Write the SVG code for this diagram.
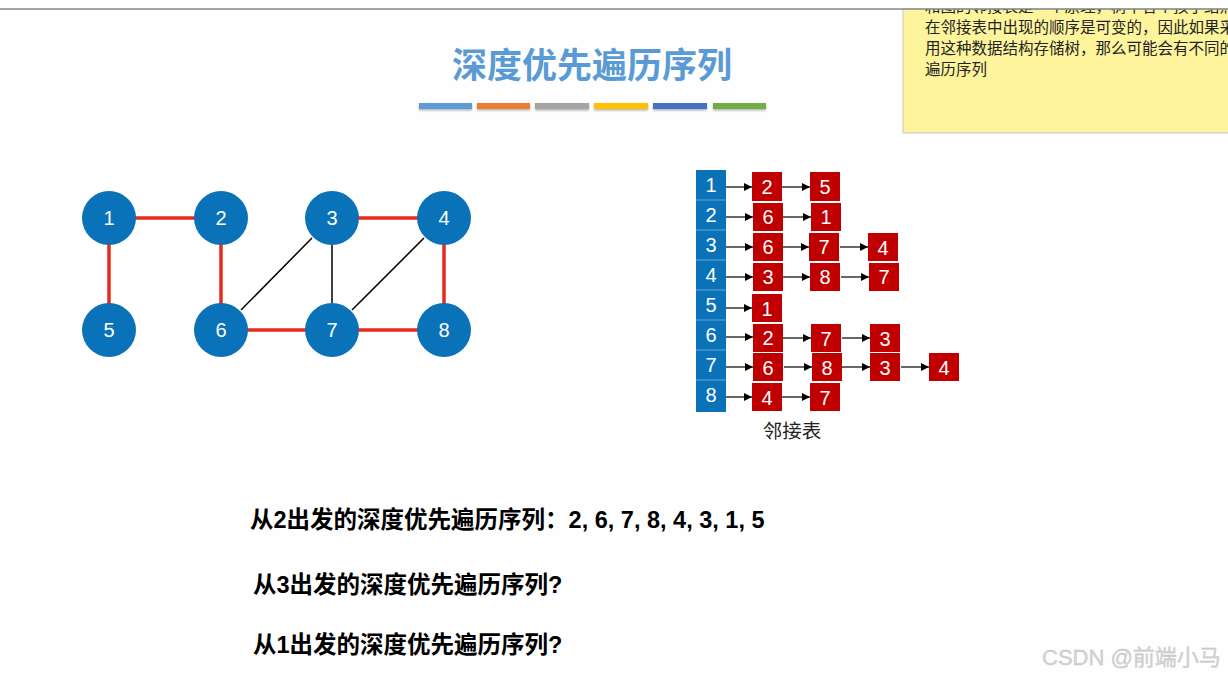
<svg xmlns="http://www.w3.org/2000/svg" width="1228" height="675" viewBox="0 0 1228 675">
<defs>
  <marker id="arr" viewBox="0 0 10 10" refX="10" refY="5" markerWidth="8" markerHeight="8" markerUnits="userSpaceOnUse" orient="auto">
    <path d="M0,0 L10,5 L0,10 z" fill="#000"/>
  </marker>
  <clipPath id="noteclip"><rect x="903" y="9" width="325" height="125"/></clipPath>
  <filter id="sh" x="-10%" y="-50%" width="120%" height="250%">
    <feDropShadow dx="0" dy="1.5" stdDeviation="1" flood-color="#000" flood-opacity="0.3"/>
  </filter>
</defs>
<style>
  .cjk { font-family: "Liberation Sans", "Noto Sans CJK SC", sans-serif; }
  .node circle { fill: #0A72B8; }
  .node text { font-family: "Liberation Sans", Arial, sans-serif; font-size: 20px; fill: #fff; text-anchor: middle; }
  .red { stroke: #E8291C; stroke-width: 3.5; }
  .blk { stroke: #000; stroke-width: 1.5; }
  .head rect { fill: #0A72B8; }
  .cell rect { fill: #C00000; }
  .lbl { font-family: "Liberation Sans", Arial, sans-serif; font-size: 20px; fill: #fff; text-anchor: middle; }
  .ar { stroke: #000; stroke-width: 1.2; marker-end: url(#arr); }
  .q { font-family: "Liberation Sans", "Noto Sans CJK SC", sans-serif; font-size: 23.5px; font-weight: bold; fill: #000; }
</style>
<rect width="1228" height="675" fill="#fefefe"/>

<!-- sticky note -->
<g id="note">
  <rect x="903" y="9" width="330" height="124" fill="#FDF49C" stroke="#c8c8c8" stroke-width="1"/>
  <g clip-path="url(#noteclip)" class="cjk" font-size="15.5" fill="#222">
    <text x="925" y="12">和图的邻接表是一个原理，树中各个孩子结点</text>
    <text x="925" y="33">在邻接表中出现的顺序是可变的，因此如果采</text>
    <text x="925" y="54">用这种数据结构存储树，那么可能会有不同的</text>
    <text x="925" y="75">遍历序列</text>
  </g>
</g>
<line x1="0" y1="9" x2="1228" y2="9" stroke="#888" stroke-width="1.5"/>

<!-- title -->
<g id="title">
  <text x="592" y="78" class="cjk" font-size="35" font-weight="bold" fill="#5B9BD5" text-anchor="middle">深度优先遍历序列</text>
  <g filter="url(#sh)">
    <rect x="419" y="103" width="53" height="6" fill="#5B9BD5"/>
    <rect x="477" y="103" width="53" height="6" fill="#ED7D31"/>
    <rect x="535" y="103" width="54" height="6" fill="#A5A5A5"/>
    <rect x="594" y="103" width="54" height="6" fill="#FFC000"/>
    <rect x="653" y="103" width="54" height="6" fill="#4472C4"/>
    <rect x="713" y="103" width="53" height="6" fill="#70AD47"/>
  </g>
</g>

<!-- graph edges -->
<g id="connectors">
  <line class="red" x1="109" y1="218" x2="221" y2="218"/>
  <line class="red" x1="109" y1="218" x2="109" y2="330"/>
  <line class="red" x1="221" y1="218" x2="221" y2="330"/>
  <line class="red" x1="332" y1="218" x2="444" y2="218"/>
  <line class="red" x1="444" y1="218" x2="444" y2="330"/>
  <line class="red" x1="221" y1="330" x2="332" y2="330"/>
  <line class="red" x1="332" y1="330" x2="444" y2="330"/>
  <line class="blk" x1="312" y1="238" x2="241" y2="310"/>
  <line class="blk" x1="332" y1="245" x2="332" y2="303"/>
  <line class="blk" x1="424" y1="238" x2="352" y2="310"/>
</g>

<g id="n1" class="node"><circle cx="109" cy="218" r="27"/><text x="109" y="225">1</text></g>
<g id="n2" class="node"><circle cx="221" cy="218" r="27"/><text x="221" y="225">2</text></g>
<g id="n3" class="node"><circle cx="332" cy="218" r="27"/><text x="332" y="225">3</text></g>
<g id="n4" class="node"><circle cx="444" cy="218" r="27"/><text x="444" y="225">4</text></g>
<g id="n5" class="node"><circle cx="109" cy="330" r="27"/><text x="109" y="337">5</text></g>
<g id="n6" class="node"><circle cx="221" cy="330" r="27"/><text x="221" y="337">6</text></g>
<g id="n7" class="node"><circle cx="332" cy="330" r="27"/><text x="332" y="337">7</text></g>
<g id="n8" class="node"><circle cx="444" cy="330" r="27"/><text x="444" y="337">8</text></g>

<!-- adjacency list -->
<g id="adjlist">
  <g class="head">
    <rect x="696" y="170" width="30" height="242"/>
    <g stroke="#6aa3cf" stroke-width="1">
      <line x1="696" y1="200" x2="726" y2="200"/>
      <line x1="696" y1="230" x2="726" y2="230"/>
      <line x1="696" y1="260" x2="726" y2="260"/>
      <line x1="696" y1="290" x2="726" y2="290"/>
      <line x1="696" y1="320" x2="726" y2="320"/>
      <line x1="696" y1="350" x2="726" y2="350"/>
      <line x1="696" y1="380" x2="726" y2="380"/>
    </g>
    <text class="lbl" x="711" y="192">1</text>
    <text class="lbl" x="711" y="222">2</text>
    <text class="lbl" x="711" y="252">3</text>
    <text class="lbl" x="711" y="282">4</text>
    <text class="lbl" x="711" y="312">5</text>
    <text class="lbl" x="711" y="342">6</text>
    <text class="lbl" x="711" y="372">7</text>
    <text class="lbl" x="711" y="402">8</text>
  </g>
  <g class="cell">
    <rect x="752" y="172" width="30" height="29"/><text class="lbl" x="767" y="194">2</text>
    <rect x="810" y="172" width="30" height="29"/><text class="lbl" x="825" y="194">5</text>
    <rect x="753" y="203" width="30" height="28"/><text class="lbl" x="768" y="224">6</text>
    <rect x="811" y="203" width="30" height="28"/><text class="lbl" x="826" y="224">1</text>
    <rect x="753" y="233" width="30" height="28"/><text class="lbl" x="768" y="254">6</text>
    <rect x="809" y="233" width="30" height="28"/><text class="lbl" x="824" y="254">7</text>
    <rect x="868" y="233" width="30" height="28"/><text class="lbl" x="883" y="255">4</text>
    <rect x="753" y="263" width="30" height="28"/><text class="lbl" x="768" y="284">3</text>
    <rect x="810" y="263" width="30" height="28"/><text class="lbl" x="825" y="284">8</text>
    <rect x="869" y="263" width="30" height="28"/><text class="lbl" x="884" y="284">7</text>
    <rect x="752" y="294" width="30" height="28"/><text class="lbl" x="767" y="316">1</text>
    <rect x="753" y="324" width="30" height="28"/><text class="lbl" x="768" y="345">2</text>
    <rect x="811" y="324" width="30" height="28"/><text class="lbl" x="826" y="346">7</text>
    <rect x="870" y="324" width="30" height="28"/><text class="lbl" x="885" y="346">3</text>
    <rect x="753" y="353" width="30" height="28"/><text class="lbl" x="768" y="375">6</text>
    <rect x="812" y="353" width="30" height="28"/><text class="lbl" x="827" y="375">8</text>
    <rect x="870" y="353" width="30" height="28"/><text class="lbl" x="885" y="375">3</text>
    <rect x="929" y="353" width="30" height="28"/><text class="lbl" x="944" y="375">4</text>
    <rect x="752" y="383" width="30" height="28"/><text class="lbl" x="767" y="405">4</text>
    <rect x="810" y="383" width="30" height="28"/><text class="lbl" x="825" y="405">7</text>
  </g>
  <g id="adjarrows">
    <line class="ar" x1="726" y1="187" x2="752" y2="187"/>
    <line class="ar" x1="782" y1="187" x2="810" y2="187"/>
    <line class="ar" x1="726" y1="217" x2="753" y2="217"/>
    <line class="ar" x1="783" y1="217" x2="811" y2="217"/>
    <line class="ar" x1="726" y1="247" x2="753" y2="247"/>
    <line class="ar" x1="783" y1="247" x2="809" y2="247"/>
    <line class="ar" x1="840" y1="247" x2="868" y2="247"/>
    <line class="ar" x1="726" y1="277" x2="753" y2="277"/>
    <line class="ar" x1="783" y1="277" x2="810" y2="277"/>
    <line class="ar" x1="841" y1="277" x2="869" y2="277"/>
    <line class="ar" x1="726" y1="308" x2="752" y2="308"/>
    <line class="ar" x1="726" y1="337" x2="753" y2="337"/>
    <line class="ar" x1="783" y1="338" x2="811" y2="338"/>
    <line class="ar" x1="842" y1="338" x2="870" y2="338"/>
    <line class="ar" x1="726" y1="367" x2="753" y2="367"/>
    <line class="ar" x1="784" y1="367" x2="812" y2="367"/>
    <line class="ar" x1="842" y1="367" x2="870" y2="367"/>
    <line class="ar" x1="901" y1="367" x2="929" y2="367"/>
    <line class="ar" x1="726" y1="397" x2="752" y2="397"/>
    <line class="ar" x1="782" y1="397" x2="810" y2="397"/>
  </g>
  <text x="792" y="438" class="cjk" font-size="19.5" fill="#222" text-anchor="middle">邻接表</text>
</g>

<!-- questions -->
<g id="texts">
  <text class="q" x="250" y="528">从2出发的深度优先遍历序列：2, 6, 7, 8, 4, 3, 1, 5</text>
  <text class="q" x="253" y="593">从3出发的深度优先遍历序列?</text>
  <text class="q" x="253" y="653">从1出发的深度优先遍历序列?</text>
</g>

<text x="1042" y="665" class="cjk" font-size="22" fill="#d4d4d4" stroke="#bbb" stroke-width="0.3">CSDN @前端小马</text>
</svg>
